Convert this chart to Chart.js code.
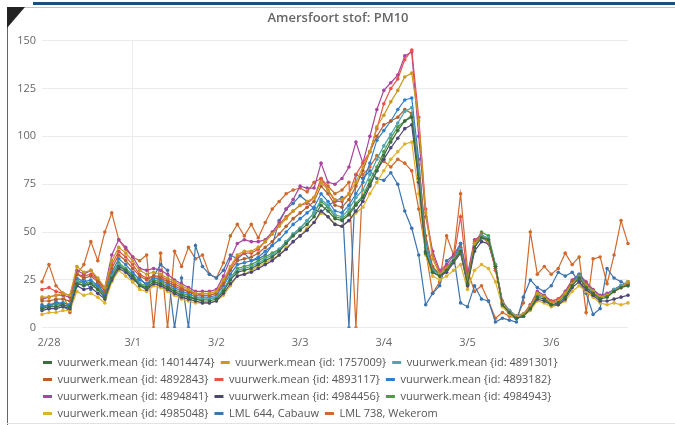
<!DOCTYPE html>
<html lang="en">
<head>
    <meta charset="UTF-8" />
    <title>Amersfoort stof: PM10</title>
    <style>
        * { margin: 0; padding: 0; box-sizing: border-box; }
        body { width: 675px; height: 425px; position: relative; background: #fff; overflow: hidden; font-family: "Open Sans", sans-serif; }
        #chart { position: absolute; left: 0; top: 0; }
        .frame-left { position: absolute; left: 7px; top: 7px; bottom: 0; width: 1px; background: #666; }
        .frame-top { position: absolute; left: 7px; right: 0; top: 7px; height: 1px; background: #c4c4c4; }
        .frame-bottom { position: absolute; left: 7px; right: 0; bottom: 1px; height: 1px; background: #e2e2e2; }
        .bar { position: absolute; left: 33px; right: 0; top: 2px; height: 3px; background: #1d4f7c; }
        .corner { position: absolute; left: 7px; top: 7px; width: 0; height: 0; border-top: 21px solid #222; border-right: 18px solid transparent; }
    </style>
</head>
<body>
    <canvas id="chart" width="675" height="425"></canvas>
    <div class="bar"></div>
    <div class="frame-top"></div>
    <div class="frame-left"></div>
    <div class="frame-bottom"></div>
    <div class="corner"></div>

    <script src="https://cdn.jsdelivr.net/npm/chart.js@4.4.1/dist/chart.umd.min.js"></script>
    <script>
        // time axis: every 2 hours, 2/27 22:00 .. 3/6 22:00
        const days = ["2/27", "2/28", "3/1", "3/2", "3/3", "3/4", "3/5", "3/6"];
        let stamps = [];
        for (const d of days) {
            for (let h = 0; h < 24; h += 2) stamps.push(d + " " + String(h).padStart(2, "0") + ":00");
        }
        const labels = stamps.slice(11);

        const yTicks = [0, 25, 50, 75, 100, 125, 150];

        const seriesNames = [
            "vuurwerk.mean {id: 14014474}", "vuurwerk.mean {id: 1757009}", "vuurwerk.mean {id: 4891301}",
            "vuurwerk.mean {id: 4892843}", "vuurwerk.mean {id: 4893117}", "vuurwerk.mean {id: 4893182}",
            "vuurwerk.mean {id: 4894841}", "vuurwerk.mean {id: 4984456}", "vuurwerk.mean {id: 4984943}",
            "vuurwerk.mean {id: 4985048}", "LML 644, Cabauw", "LML 738, Wekerom"
        ];
        const seriesColors = [
            "#3b6e3e", "#c9981f", "#4ea5b0",
            "#b5602c", "#e5534b", "#2f7fce",
            "#a9459f", "#4b4678", "#4f9a44",
            "#e0b12a", "#3d74ad", "#d0692c"
        ];

        const s14014474 = [10,11,11,12,11,23,22,23,20,16, 26,32,30,27,22,21,24,23,21,19, 17,16,15,14,14,15,19,25,29,30,
            31,33,35,37,40,44,48,51,54,58, 64,61,57,56,59,64,68,75,82,90, 97,103,108,110,78,39,29,27,30,35,
            40,23,42,47,46,32,12,8,5,6, 10,16,15,12,13,16,22,26,21,18, 15,16,19,21,22];
        const s1757009 = [16,16,17,18,17,32,29,30,26,21, 35,42,39,35,30,28,29,28,26,24, 22,20,18,18,18,19,25,32,38,40,
            40,42,45,49,53,57,61,64,66,68, 76,72,67,67,70,76,84,92,105,111, 118,124,131,133,108,60,36,28,31,35,
            40,24,44,47,45,32,13,8,6,7, 11,18,16,13,14,18,23,26,22,19, 16,17,19,21,24];
        const s4891301 = [10,11,11,12,11,24,22,23,20,16, 27,33,30,27,23,21,24,23,21,19, 17,16,15,15,15,16,20,26,30,31,
            32,34,36,38,41,45,49,52,56,60, 67,64,59,58,62,68,72,80,88,95, 101,107,113,115,82,42,30,28,31,36,
            41,24,43,48,47,33,13,9,6,7, 11,17,16,13,14,17,23,27,22,19, 16,17,20,22,24];
        const s4892843 = [14,14,15,15,14,28,26,27,24,19, 31,38,35,31,27,25,27,26,24,22, 20,19,17,17,17,18,23,30,35,36,
            37,39,42,45,49,53,57,60,63,66, 74,70,64,63,67,74,82,92,100,106, 108,110,114,112,85,48,32,28,31,35,
            42,24,44,48,46,32,13,8,6,7, 11,18,16,13,14,18,24,27,23,19, 16,17,19,21,23];
        const s4893117 = [20,21,19,18,17,28,27,28,25,20, 33,40,37,33,28,26,27,27,25,23, 21,19,18,17,17,18,24,31,37,39,
            39,41,45,49,54,58,61,64,65,68, 78,72,66,66,70,80,86,92,104,117, 125,130,140,145,110,62,38,29,32,36,
            58,26,45,49,46,30,13,8,6,7, 12,18,16,14,15,18,24,27,23,19, 16,17,19,21,23];
        const s4893182 = [11,12,13,13,12,26,24,25,22,18, 29,36,33,29,25,23,26,25,23,21, 19,18,16,16,16,17,22,28,33,34,
            35,37,40,43,46,50,54,57,60,63, 70,66,61,60,64,70,76,86,98,103, 108,114,119,120,88,45,31,28,31,36,
            44,25,43,47,45,32,13,8,5,6, 11,17,16,13,14,17,24,28,23,19, 16,17,20,22,23];
        const s4894841 = [15,16,17,17,16,30,28,30,25,21, 38,46,42,37,31,30,31,30,28,25, 23,21,19,19,19,20,27,36,44,46,
            45,45,46,50,55,62,67,74,73,73, 86,76,75,78,84,97,86,100,114,124, 128,132,142,144,100,58,40,30,33,38,
            44,28,46,48,44,32,14,9,6,7, 12,19,17,14,15,19,25,28,24,20, 17,18,20,22,24];
        const s4984456 = [9,10,10,11,10,22,20,21,18,15, 25,31,29,26,22,20,23,22,20,18, 16,15,14,13,13,14,18,23,27,28,
            29,31,33,35,38,41,45,48,51,55, 61,58,54,53,56,61,66,74,82,88, 94,99,104,106,76,40,29,27,29,34,
            39,22,40,45,44,31,12,8,5,6, 10,15,14,12,12,15,21,24,20,17, 14,14,15,16,17];
        const s4984943 = [11,12,12,13,12,25,23,24,21,17, 28,34,31,28,23,22,25,24,22,20, 18,17,15,15,15,16,20,26,31,32,
            33,35,37,39,41,45,49,52,56,60, 66,63,58,57,60,65,69,77,84,92, 99,105,108,111,80,42,30,28,31,36,
            42,24,44,50,48,33,13,9,6,7, 11,17,16,13,14,17,23,27,22,19, 16,17,20,22,23];
        const s4985048 = [7,8,8,9,9,19,17,18,16,13, 24,30,27,24,20,19,22,21,19,17, 15,14,13,13,13,14,17,22,27,28,
            30,32,34,36,38,42,45,48,52,55, 60,58,54,53,56,60,63,70,76,82, 88,92,96,97,70,38,27,25,27,30,
            33,20,30,33,31,24,11,7,5,6, 9,14,13,11,12,14,19,22,19,16, 13,12,13,12,13];
        const lml644 = [12,10,14,11,9,22,26,20,24,16, 26,33,30,24,26,22,27,33,30,0, 26,0,43,32,28,26,30,38,36,39,
            35,36,38,43,56,62,65,69,66,62, 60,64,66,68,0,80,78,82,78,77, 81,75,61,52,38,12,18,22,35,38,
            13,11,22,15,14,3,5,4,3,16, 25,21,19,22,29,27,29,24,18,7, 10,31,26,24,22];
        const lml738 = [24,33,22,18,8,28,33,45,35,50, 60,46,41,37,35,38,0,39,0,40, 32,42,36,38,28,26,34,48,54,48,
            54,47,55,62,66,70,72,73,71,76, 78,74,70,72,76,0,80,84,90,87, 84,88,86,82,62,40,18,24,48,38,
            70,30,19,22,14,5,8,6,5,13, 50,28,32,28,31,39,33,37,8,36, 37,23,38,56,44];

        const seriesValues = [s14014474, s1757009, s4891301, s4892843, s4893117, s4893182,
            s4894841, s4984456, s4984943, s4985048, lml644, lml738];

        const datasets = seriesNames.map((name, i) => ({
            label: name,
            data: seriesValues[i],
            borderColor: seriesColors[i],
            backgroundColor: seriesColors[i],
            borderWidth: 1.2,
            pointRadius: 1.8,
            pointBorderWidth: 0,
            pointBackgroundColor: seriesColors[i],
            tension: 0,
        }));

        const isMidnight = (i) => labels[i] && labels[i].endsWith("00:00");

        // title and legend sit a bit further right than the default layout
        const panelShift = {
            id: "panelShift",
            afterLayout(chart) {
                if (chart.titleBlock) {
                    chart.titleBlock.left += 19;
                    chart.titleBlock.right += 19;
                }
                if (chart.legend) {
                    chart.legend.left += 27;
                    chart.legend.right += 27;
                }
            },
        };

        Chart.defaults.font.family = "'Open Sans', sans-serif";

        new Chart(document.getElementById("chart"), {
            type: "line",
            data: { labels: labels, datasets: datasets },
            plugins: [panelShift],
            options: {
                responsive: false,
                animation: false,
                layout: { padding: { left: 10, right: 47, top: 6, bottom: -4 } },
                scales: {
                    x: {
                        border: { display: false },
                        afterFit: (scale) => { scale.height -= 6; },
                        grid: {
                            drawTicks: false,
                            color: (ctx) => (isMidnight(ctx.index) ? "#ebebeb" : "rgba(0,0,0,0)"),
                        },
                        ticks: {
                            autoSkip: false,
                            maxRotation: 0,
                            padding: 8,
                            color: "#666",
                            font: { size: 11 },
                            callback: (v, i) => (isMidnight(i) ? labels[i].split(" ")[0] : null),
                        },
                    },
                    y: {
                        min: 0,
                        max: 150,
                        border: { display: false },
                        afterFit: (scale) => { scale.width = 32; },
                        afterBuildTicks: (scale) => { scale.ticks = yTicks.map((v) => ({ value: v })); },
                        grid: { drawTicks: false, color: "#ebebeb" },
                        ticks: { padding: 6, color: "#666", font: { size: 11 } },
                    },
                },
                plugins: {
                    tooltip: { enabled: false },
                    title: {
                        display: true,
                        text: "Amersfoort stof: PM10",
                        color: "#666",
                        font: { size: 13, weight: "600" },
                        padding: { top: 4, bottom: 15 },
                    },
                    legend: {
                        position: "bottom",
                        align: "start",
                        labels: {
                            color: "#555",
                            font: { size: 11 },
                            boxWidth: 9,
                            boxHeight: 3,
                            padding: 6,
                            generateLabels: (chart) =>
                                Chart.defaults.plugins.legend.labels.generateLabels(chart).map((l) => ({ ...l, lineWidth: 0 })),
                        },
                    },
                },
            },
        });
    </script>
</body>
</html>
